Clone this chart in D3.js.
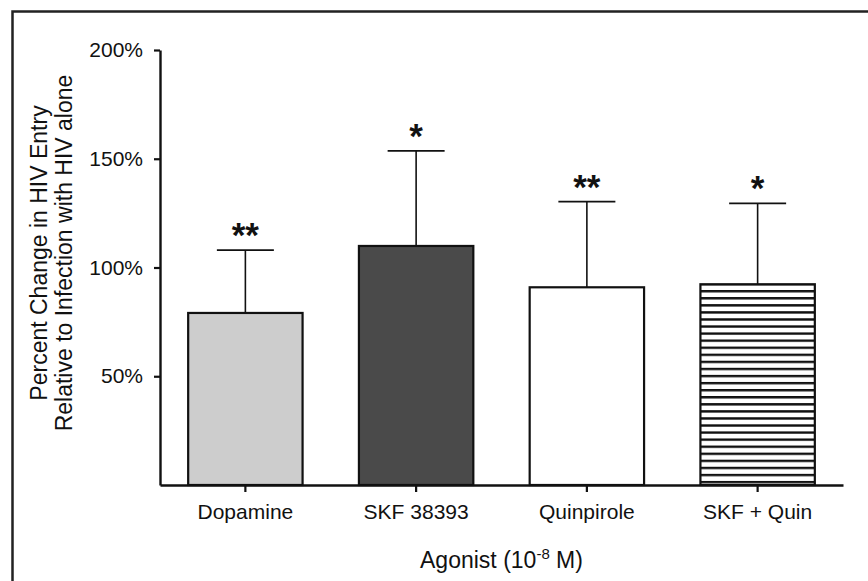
<!DOCTYPE html>
<html><head><meta charset="utf-8">
<script src="https://cdn.jsdelivr.net/npm/d3@7"></script>
<style>body{margin:0;background:#fff;} svg{display:block;font-family:"Liberation Sans",Arial,sans-serif;}</style>
</head><body>
<script>
const categories = ["Dopamine", "SKF 38393", "Quinpirole", "SKF + Quin"];
const means = [79.1, 109.9, 90.9, 92.3];
const errUpper = [108.0, 153.6, 130.3, 129.5];
const stars = ["**", "*", "**", "*"];
const fills = ["#cdcdcd", "#4a4a4a", "#ffffff", "url(#hstripe)"];
const yTicks = [50, 100, 150, 200];

const W = 868, H = 581;
const svg = d3.select("body").append("svg").attr("width", W).attr("height", H);
const defs = svg.append("defs");
const pat = defs.append("pattern").attr("id","hstripe").attr("patternUnits","userSpaceOnUse")
  .attr("width", 10).attr("height", 7.07).attr("y", 290);
pat.append("rect").attr("width",10).attr("height",7.07).attr("fill","#fff");
pat.append("rect").attr("y",0).attr("width",10).attr("height",2.4).attr("fill","#111");

// outer frame
svg.append("rect").attr("x",12.5).attr("y",11.5).attr("width",900).attr("height",700)
  .attr("fill","none").attr("stroke","#222").attr("stroke-width",2.5);

const x = d3.scaleBand().domain(categories).range([160, 843]).paddingInner(0.33).paddingOuter(0.165);
const y = d3.scaleLinear().domain([0, 200]).range([485, 50]);

const g = svg.append("g");
// error bars
const eb = g.selectAll(".eb").data(categories).join("g");
eb.append("line").attr("x1", d => x(d)+x.bandwidth()/2).attr("x2", d => x(d)+x.bandwidth()/2)
  .attr("y1", (d,i) => y(means[i])).attr("y2", (d,i) => y(errUpper[i]))
  .attr("stroke","#111").attr("stroke-width",1.6);
eb.append("line").attr("x1", d => x(d)+x.bandwidth()/2-28.5).attr("x2", d => x(d)+x.bandwidth()/2+28.5)
  .attr("y1", (d,i) => y(errUpper[i])).attr("y2", (d,i) => y(errUpper[i]))
  .attr("stroke","#111").attr("stroke-width",1.8);
// bars
g.selectAll(".bar").data(categories).join("rect")
  .attr("x", d => x(d)).attr("width", x.bandwidth())
  .attr("y", (d,i) => y(means[i])).attr("height", (d,i) => y(0) - y(means[i]))
  .attr("fill", (d,i) => fills[i]).attr("stroke","#111").attr("stroke-width",2.2);
// stars
g.selectAll(".star").data(categories).join("text")
  .attr("x", d => x(d)+x.bandwidth()/2).attr("y", (d,i) => y(errUpper[i]) - 3)
  .attr("text-anchor","middle").attr("font-size",35).attr("font-weight","bold").attr("fill","#111")
  .text((d,i) => stars[i]);

// axes
const yAxis = d3.axisLeft(y).tickValues(yTicks).tickFormat(d => d + "%").tickSize(6).tickPadding(11).tickSizeOuter(0);
const ya = svg.append("g").attr("transform","translate(160,0)").call(yAxis);
ya.select(".domain").attr("stroke","#111").attr("stroke-width",2.4);
ya.selectAll(".tick line").attr("stroke","#111").attr("stroke-width",2.2);
ya.selectAll(".tick text").attr("font-size",21).attr("fill","#111").attr("font-family","Liberation Sans, Arial, sans-serif");

const xAxis = d3.axisBottom(x).tickSize(7).tickPadding(12).tickSizeOuter(0);
const xa = svg.append("g").attr("transform","translate(0,485)").call(xAxis);
xa.select(".domain").attr("stroke","#111").attr("stroke-width",2.4);
xa.selectAll(".tick line").attr("stroke","#111").attr("stroke-width",2.2);
xa.selectAll(".tick text").attr("font-size",21).attr("fill","#111").attr("font-family","Liberation Sans, Arial, sans-serif");

// axis titles
const yt = svg.append("text").attr("transform","translate(0,253) rotate(-90)")
  .attr("text-anchor","middle").attr("font-size",23).attr("fill","#111");
yt.append("tspan").attr("x",0).attr("y",47).text("Percent Change in HIV Entry");
yt.append("tspan").attr("x",0).attr("y",72).text("Relative to Infection with HIV alone");

const xt = svg.append("text").attr("x",501.5).attr("y",568).attr("text-anchor","middle")
  .attr("font-size",23).attr("fill","#111");
xt.append("tspan").text("Agonist (10");
xt.append("tspan").attr("font-size",15).attr("dy",-9).text("-8");
xt.append("tspan").attr("dy",9).text(" M)");
</script>
</body></html>
